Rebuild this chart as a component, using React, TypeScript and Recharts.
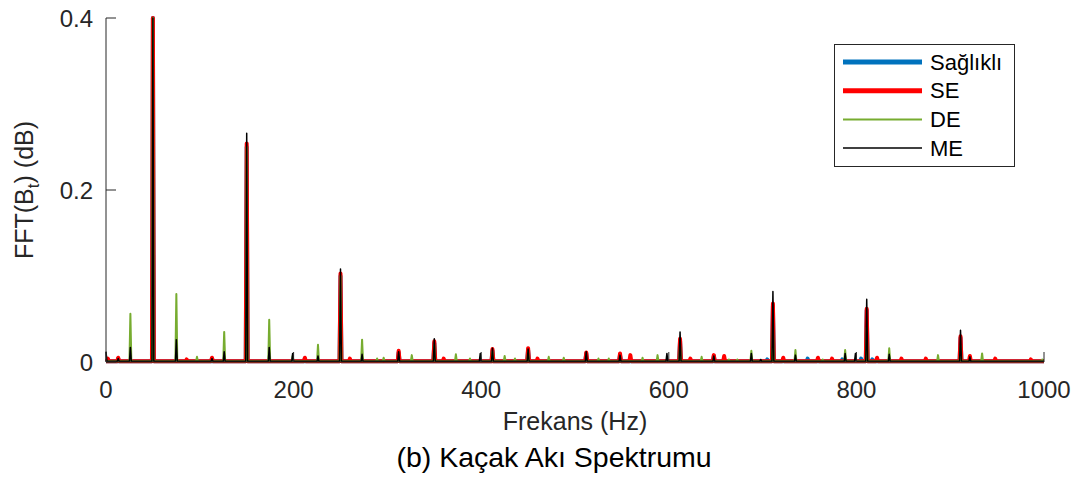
import { LineChart, Line, XAxis, YAxis, Legend } from 'recharts'

const FREQ_TICKS = [0, 200, 400, 600, 800, 1000]
const AMP_TICKS = [0, 0.2, 0.4]
const BASE = 0.0008

// [frequency (Hz), amplitude] peaks
const saglikli: [number, number][] = [
  [2, 0.003], [13, 0.004], [50, 0.4], [113, 0.004], [150, 0.25], [212, 0.004], [250, 0.1],
  [312, 0.011], [350, 0.022], [412, 0.013], [450, 0.014], [512, 0.01], [548, 0.008], [612, 0.025],
  [648, 0.007], [705, 0.003], [711, 0.065], [748, 0.004], [785, 0.003], [805, 0.004], [811, 0.06],
  [817, 0.003], [911, 0.028],
]
const se: [number, number][] = [
  [2, 0.004], [13, 0.005], [50, 0.4], [86, 0.003], [113, 0.005], [150, 0.254], [212, 0.005],
  [250, 0.103], [260, 0.004], [312, 0.013], [350, 0.024], [360, 0.004], [412, 0.015], [450, 0.016],
  [460, 0.004], [512, 0.011], [548, 0.01], [559, 0.008], [612, 0.027], [623, 0.004], [648, 0.008],
  [659, 0.007], [711, 0.068], [722, 0.005], [759, 0.005], [774, 0.004], [811, 0.062], [822, 0.005],
  [848, 0.004], [874, 0.004], [911, 0.03], [921, 0.007], [948, 0.004], [986, 0.003],
]
const de: [number, number][] = [
  [26, 0.056], [50, 0.4], [75, 0.079], [97, 0.006], [126, 0.035], [150, 0.25], [174, 0.049],
  [199, 0.007], [226, 0.02], [250, 0.1], [273, 0.026], [289, 0.004], [296, 0.005], [326, 0.008],
  [350, 0.02], [373, 0.009], [388, 0.004], [412, 0.012], [425, 0.007], [436, 0.004], [450, 0.012],
  [472, 0.006], [488, 0.005], [525, 0.004], [536, 0.004], [572, 0.005], [588, 0.008], [612, 0.02],
  [635, 0.006], [664, 0.003], [673, 0.003], [688, 0.013], [711, 0.042], [735, 0.014], [764, 0.003],
  [788, 0.014], [811, 0.04], [835, 0.016], [887, 0.008], [911, 0.019], [934, 0.01], [998, 0.003],
]
const me: [number, number][] = [
  [0, 0.012], [13, 0.004], [26, 0.017], [50, 0.4], [75, 0.026], [113, 0.004], [126, 0.012],
  [150, 0.266], [174, 0.017], [199, 0.01], [226, 0.007], [250, 0.108], [273, 0.009], [312, 0.012],
  [350, 0.027], [399, 0.01], [412, 0.016], [450, 0.015], [512, 0.012], [548, 0.008], [598, 0.01],
  [612, 0.035], [648, 0.007], [688, 0.01], [698, 0.003], [711, 0.082], [735, 0.008], [788, 0.01],
  [799, 0.01], [811, 0.073], [835, 0.009], [911, 0.037], [921, 0.006],
]

const SERIES = [
  { key: 'saglikli', name: 'Sağlıklı', color: '#0072BD', width: 4, peaks: saglikli },
  { key: 'se', name: 'SE', color: '#FF0000', width: 4, peaks: se },
  { key: 'de', name: 'DE', color: '#77AC30', width: 2, peaks: de },
  { key: 'me', name: 'ME', color: '#000000', width: 1.5, peaks: me },
]

// every peak gets a narrow spike: baseline one bin either side
const freqSet = new Set<number>([0, 1000])
for (const s of SERIES) {
  for (const [f] of s.peaks) {
    for (const x of [f - 1, f, f + 1]) if (x >= 0 && x <= 1000) freqSet.add(x)
  }
}
const lookup: Record<string, Map<number, number>> = {}
for (const s of SERIES) lookup[s.key] = new Map(s.peaks)
const data = Array.from(freqSet).sort((a, b) => a - b).map(f => {
  const row: Record<string, number> = { f }
  for (const s of SERIES) row[s.key] = lookup[s.key].get(f) ?? BASE
  return row
})

const FONT = '"Liberation Sans", Arial, sans-serif'
const AXIS = '#262626'

const renderLegend = () => (
  <svg width={181} height={123} style={{ display: 'block' }}>
    <rect x={0.5} y={0.5} width={180} height={122} fill="#fff" stroke={AXIS} strokeWidth={1} />
    {SERIES.map((s, i) => (
      <g key={s.key}>
        <line x1={9} x2={88} y1={18 + i * 28.7} y2={18 + i * 28.7} stroke={s.color} strokeWidth={s.width === 4 ? 5 : s.width} />
        <text x={96} y={18 + i * 28.7} dominantBaseline="central" fontSize={22} fontFamily={FONT} fill="#000">{s.name}</text>
      </g>
    ))}
  </svg>
)

const YLabel = () => (
  <text transform="translate(33,190) rotate(-90)" textAnchor="middle" fontSize={25} fontFamily={FONT} fill={AXIS}>
    FFT(B<tspan fontSize={17} dy={6}>t</tspan><tspan dy={-6}>) (dB)</tspan>
  </text>
)

const XLabel = () => (
  <text x={575} y={430} textAnchor="middle" fontSize={25} fontFamily={FONT} fill={AXIS}>Frekans (Hz)</text>
)

export default function App() {
  const tick = { fontSize: 24, fill: AXIS, fontFamily: FONT }
  return (
    <div style={{ position: 'absolute', left: 0, top: 0, width: 1077, height: 478, fontFamily: FONT }}>
      <LineChart width={1077} height={478} data={data} margin={{ top: 18, right: 33, bottom: 0, left: 0 }}>
        <XAxis dataKey="f" type="number" domain={[0, 1000]} ticks={FREQ_TICKS} height={116}
          stroke={AXIS} tick={tick} tickSize={-10} tickMargin={29} label={<XLabel />} />
        <XAxis xAxisId="top" orientation="top" type="number" domain={[0, 1000]} ticks={FREQ_TICKS}
          height={0} stroke={AXIS} tick={false} tickSize={-10} />
        <YAxis type="number" domain={[0, 0.4]} ticks={AMP_TICKS} width={106} stroke={AXIS}
          tick={tick} tickSize={-10} tickMargin={23} tickFormatter={v => String(v)} label={<YLabel />} />
        <YAxis yAxisId="right" orientation="right" type="number" domain={[0, 0.4]} ticks={AMP_TICKS}
          width={0} stroke={AXIS} tick={false} tickSize={-10} />
        <Legend layout="horizontal" align="center" verticalAlign="middle" content={renderLegend}
          wrapperStyle={{ left: 834, top: 44, width: 181, height: 123 }} />
        {SERIES.map(s => (
          <Line key={s.key} dataKey={s.key} name={s.name} type="linear" stroke={s.color} strokeWidth={s.width}
            strokeLinejoin="round" dot={false} activeDot={false} isAnimationActive={false} />
        ))}
      </LineChart>
      <svg width={1077} height={478} style={{ position: 'absolute', left: 0, top: 0, pointerEvents: 'none' }}>
        <text x={554} y={467} textAnchor="middle" fontSize={28.5} fontFamily={FONT} fill="#000">(b) Kaçak Akı Spektrumu</text>
      </svg>
    </div>
  )
}
